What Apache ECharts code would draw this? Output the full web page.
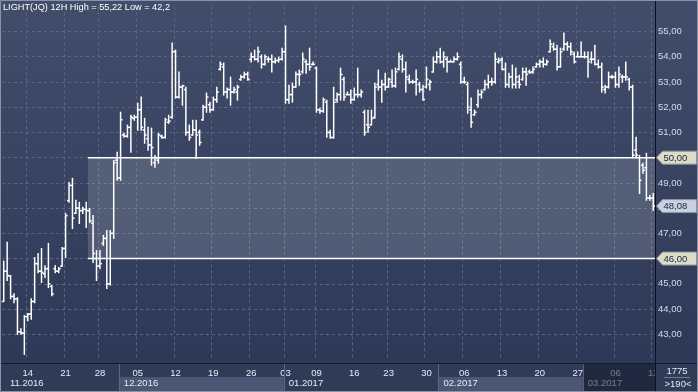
<!DOCTYPE html>
<html><head><meta charset="utf-8">
<script src="https://cdn.jsdelivr.net/npm/echarts@6/dist/echarts.min.js"></script>
<style>html,body{margin:0;padding:0;background:#2e3a57;}#c{width:698px;height:392px;}</style>
</head><body><div id="c"></div>
<script>
// ---- data (12H bars, LIGHT(JQ)) ----
const titleText = 'LIGHT(JQ) 12H High = 55,22 Low = 42,2';
const opens = [
44.3,45.5,45.3,44.5,44.4,43.1,43.05,43.7,43.8,44.3,
45.8,45.5,45.4,45.6,44.9,45.6,45.5,45.7,46.4,48.3,
48.9,47.8,48.0,47.9,47.95,47.9,47.4,46.0,45.7,46.6,
46.8,45.0,47.0,49.9,49.2,50.9,50.85,51.2,51.55,51.6,
51.9,51.1,50.75,50.5,49.8,49.9,50.85,50.8,51.4,51.6,
54.2,52.4,52.8,52.7,51.0,50.9,51.1,51.0,51.5,52.0,
52.1,51.9,52.3,53.5,53.6,52.6,52.7,52.6,52.6,53.1,
53.2,53.3,53.9,54.0,53.9,54.0,53.7,53.9,53.9,53.8,
53.85,53.9,54.2,52.3,52.5,52.8,53.3,53.4,53.8,53.7,
53.7,53.55,51.9,51.85,52.2,
51.0,50.8,52.3,52.5,53.1,52.5,52.5,52.3,52.5,52.5,
51.8,51.3,51.3,51.6,52.9,52.8,52.9,52.8,53.0,52.85,
53.5,53.9,53.5,53.1,53.0,53.0,52.9,52.7,52.8,52.9,
53.4,53.8,54.0,53.8,53.9,53.8,53.8,53.9,53.7,53.0,
52.9,51.9,51.7,52.1,52.5,52.7,52.9,
53.0,53.0,53.8,53.9,53.5,52.9,53.2,52.9,53.0,53.1,
53.4,53.4,53.4,53.6,53.7,53.8,53.7,54.2,54.4,54.3,
53.6,54.3,54.5,54.4,54.1,54.0,54.0,54.0,54.0,53.9,
53.9,53.7,53.6,52.7,52.8,53.2,53.2,52.9,53.2,53.2,
53.1,52.8,50.3,50.0,49.7,49.6,48.4,48.4
];
const highs = [
45.9,46.65,45.33,44.61,44.45,43.22,43.74,43.82,44.41,46.04,
46.2,46.4,45.72,46.6,44.93,45.72,45.64,46.44,47.79,49.02,
49.18,48.31,48.23,48.03,48.23,47.99,47.71,46.32,46.32,46.92,
47.11,47.11,49.89,50.21,51.8,50.97,51.29,51.68,51.68,52.16,
52.4,51.56,51.21,51.17,50.09,50.97,50.89,51.56,51.68,54.54,
54.26,53.39,52.87,52.79,51.29,51.48,51.48,51.09,52.08,52.56,
52.2,52.4,52.79,53.79,53.75,52.76,53.19,52.79,52.87,53.27,
53.39,53.39,54.15,54.26,54.38,54.07,54.07,53.99,54.07,53.95,
53.99,54.34,55.22,52.87,52.95,53.39,53.47,54.15,53.87,54.34,
53.79,53.59,51.96,52.36,52.28,
51.09,52.79,52.56,53.55,53.19,52.6,52.68,52.76,53.55,52.68,
51.88,51.88,51.88,52.95,53.47,53.07,53.35,53.15,53.47,53.55,
54.15,54.07,53.79,53.27,53.07,53.47,52.99,52.87,53.59,53.07,
53.99,54.19,54.34,54.19,53.99,53.87,53.99,54.15,53.79,53.19,
52.99,52.36,51.88,52.68,52.68,53.07,53.27,
53.15,54.15,53.95,53.95,53.75,53.35,53.67,53.55,53.27,53.55,
53.55,53.47,53.59,53.75,53.87,53.95,53.87,54.66,54.54,54.46,
54.34,54.94,54.58,54.54,54.19,54.19,54.58,54.19,54.19,54.19,
54.46,53.87,53.75,52.87,53.39,53.27,53.39,53.59,53.27,53.79,
53.15,52.87,50.81,50.09,49.78,50.17,48.5,48.58
];
const lows = [
44.3,45.13,44.41,44.25,43.0,43.0,42.2,43.54,43.6,44.25,
45.44,45.05,45.25,44.85,44.53,45.44,45.44,45.7,46.04,48.23,
47.19,47.79,47.39,47.79,47.23,47.43,45.84,45.13,45.6,46.52,
44.81,44.95,46.8,49.1,49.1,50.81,50.81,50.21,51.48,51.09,
51.09,50.57,50.29,49.7,49.62,49.78,50.77,50.78,51.36,51.56,
52.36,52.36,52.08,50.89,50.69,50.89,49.97,50.49,51.48,51.8,
51.8,51.88,52.2,53.47,52.48,52.36,52.08,52.56,52.28,53.07,
53.15,53.07,53.79,53.87,53.79,53.55,53.67,53.79,53.39,53.75,
53.79,53.87,52.16,52.16,52.2,52.79,52.87,53.35,53.35,53.47,
53.67,51.8,51.76,51.8,50.81,
50.77,50.77,52.2,52.28,52.28,52.48,52.16,52.28,52.4,52.4,
50.89,51.01,51.3,51.56,52.68,52.2,52.68,52.79,52.79,52.79,
53.47,53.39,52.6,52.95,52.95,52.48,52.6,52.28,52.76,52.68,
53.39,53.75,53.75,53.59,53.39,53.79,53.79,53.87,52.95,52.95,
51.76,51.21,51.68,52.0,52.36,52.68,52.76,
52.87,52.95,53.75,53.47,52.79,52.79,52.76,52.76,52.76,53.07,
52.87,53.35,53.35,53.59,53.59,53.59,53.67,54.19,54.26,53.47,
53.59,54.26,54.26,54.07,53.75,53.99,53.99,53.95,53.19,53.75,
53.67,53.55,52.6,52.56,52.76,53.15,52.79,52.79,52.99,53.07,
52.68,50.01,50.01,48.58,49.38,48.31,48.31,47.91
];
const closes = [
45.5,45.33,44.5,44.4,43.1,43.05,43.7,43.8,44.3,45.8,
45.5,45.45,45.6,45.0,44.6,45.5,45.6,46.4,47.7,48.9,
47.6,48.0,47.9,47.95,47.9,47.5,46.2,45.7,45.8,46.8,
45.0,47.0,49.8,49.2,51.5,50.85,51.2,51.6,51.6,51.9,
51.2,50.9,50.5,50.4,50.0,50.9,50.8,51.5,51.45,54.2,
52.4,52.8,52.85,51.0,50.8,51.1,50.9,50.6,52.0,52.4,
51.9,52.3,52.6,53.7,52.6,52.7,52.6,52.7,52.8,53.2,
53.3,53.1,54.0,53.9,54.2,53.7,54.0,53.9,53.8,53.85,
53.9,54.2,52.3,52.5,52.8,53.3,53.3,53.9,53.7,53.6,
53.7,51.9,51.85,52.3,51.0,
50.8,52.2,52.5,53.3,52.4,52.5,52.3,52.5,52.5,52.6,
51.0,51.2,51.55,52.8,52.8,52.9,52.8,53.1,52.85,53.4,
54.0,53.5,53.2,53.0,53.0,53.1,52.7,52.3,53.1,53.0,
53.8,54.0,53.8,54.0,53.8,53.8,53.9,54.0,53.0,53.0,
52.0,51.4,51.8,52.5,52.6,52.9,53.0,
53.0,53.9,53.85,53.5,52.9,53.2,52.9,53.2,52.9,53.4,
53.3,53.37,53.5,53.7,53.8,53.7,53.8,54.5,54.3,53.6,
54.2,54.5,54.4,54.2,53.8,54.0,54.0,54.0,53.8,53.9,
53.7,53.6,52.8,52.8,53.2,53.2,52.9,53.3,53.2,53.2,
52.8,50.1,50.1,49.1,49.5,48.4,48.4,48.08
];
const weekLabels   = ['14','21','28','05','12','19','26','03','09','16','23','30','06','13','20','27','06','13'];
const weekStartBar = [7,18,28,39,50,61,72,82,91,102,112,123,134,145,156,167,178,189];
const monthLabels   = ['11.2016','12.2016','01.2017','02.2017','03.2017'];
const monthStartBar = [0,34,82,127,169];
const levelValues = [50, 46];
const zoneStartBar = 25;
const lastPrice = 48.08;
const footerTop = '1775';
const footerBottom = '>190<';

// ---- build ----
const N = opens.length;
const categories = new Array(N).fill('');
weekStartBar.forEach((b, k) => { categories[b] = weekLabels[k]; });
const ohlc = opens.map((o, i) => [i, o, highs[i], lows[i], closes[i]]);
const fmt = v => v.toFixed(2).replace('.', ',');
const FONT = 'Liberation Sans, Arial, sans-serif';
const FS = 9.5;

const chart = echarts.init(document.getElementById('c'));
const bgGrad = new echarts.graphic.LinearGradient(0, 0, 0, 1, [
  {offset: 0, color: '#414d6b'}, {offset: 1, color: '#2b3755'}
]);
const option = {
  animation: false,
  textStyle: {fontFamily: FONT},
  title: {text: titleText, left: 3, top: 3, padding: 0,
    textStyle: {color: '#ffffff', fontSize: 9.2, fontWeight: 'normal', fontFamily: FONT}},
  graphic: [
    {type: 'rect', z: -10, silent: true, shape: {x: 0, y: 0, width: 698, height: 392}, style: {fill: bgGrad}},
    {type: 'rect', z: -5, silent: true, shape: {x: 0, y: 363, width: 698, height: 29}, style: {fill: '#303b57'}},
    {type: 'line', z: 20, silent: true, shape: {x1: 0, y1: 363.5, x2: 698, y2: 363.5}, style: {stroke: '#141b2c', lineWidth: 1}},
    {type: 'line', z: 20, silent: true, shape: {x1: 655.5, y1: 0, x2: 655.5, y2: 392}, style: {stroke: '#0b111e', lineWidth: 1}},
    {type: 'rect', z: 19, silent: true, shape: {x: 656, y: 364, width: 42, height: 28}, style: {fill: '#303b57'}},
    {type: 'text', z: 21, silent: true, style: {text: footerTop, x: 677, y: 371, align: 'center', verticalAlign: 'middle', fill: '#e3e9f4', font: FS + 'px ' + FONT}},
    {type: 'line', z: 21, silent: true, shape: {x1: 664, y1: 377.5, x2: 690, y2: 377.5}, style: {stroke: '#6f7a94', lineWidth: 1}},
    {type: 'text', z: 21, silent: true, style: {text: footerBottom, x: 678, y: 384, align: 'center', verticalAlign: 'middle', fill: '#e3e9f4', font: FS + 'px ' + FONT}},
    {type: 'rect', z: 30, silent: true, shape: {x: 0.5, y: 0.5, width: 697, height: 391}, style: {fill: 'none', stroke: '#8a94a8', lineWidth: 1}}
  ],
  grid: {left: 2, right: 43, top: 6.27, bottom: 32.5},
  xAxis: {
    type: 'category', data: categories, boundaryGap: true,
    axisLine: {show: false}, axisTick: {show: false},
    axisLabel: {interval: (i, v) => v !== '', margin: 9, fontSize: FS, color: '#e6ecf6', fontFamily: FONT},
    splitLine: {show: true, interval: (i, v) => v !== '', lineStyle: {color: '#5a6683', type: [3, 3], width: 1}}
  },
  yAxis: {
    type: 'value', position: 'right', min: 42, max: 56, interval: 1,
    axisLine: {show: false}, axisTick: {show: false},
    axisLabel: {margin: 3, fontSize: FS, color: '#d3dbef', fontFamily: FONT, showMinLabel: false, showMaxLabel: false, formatter: v => fmt(v)},
    splitLine: {show: true, showMinLine: false, showMaxLine: false, lineStyle: {color: '#5a6683', type: [3, 3], width: 1}}
  },
  series: [
    { // shaded zone between the two levels
      type: 'custom', name: 'zone', clip: false, z: 1,
      data: [[zoneStartBar, levelValues[0], levelValues[1]]],
      encode: {x: 0, y: [1, 2]},
      renderItem: (params, api) => {
        const cs = params.coordSys;
        const w = api.size([1, 0])[0];
        const x0 = api.coord([api.value(0), levelValues[0]])[0] - w / 2;
        const y1 = api.coord([0, api.value(1)])[1];
        const y2 = api.coord([0, api.value(2)])[1];
        const xr = cs.x + cs.width;
        return {type: 'group', children: [
          {type: 'rect', shape: {x: x0, y: y1, width: xr - x0, height: y2 - y1}, style: {fill: 'rgba(255,255,255,0.15)'}},
          {type: 'line', shape: {x1: x0, y1: y1, x2: xr, y2: y1}, style: {stroke: '#ffffff', lineWidth: 1.5}},
          {type: 'line', shape: {x1: x0, y1: y2, x2: xr, y2: y2}, style: {stroke: '#ffffff', lineWidth: 1.5}}
        ]};
      }
    },
    { // OHLC bars
      type: 'custom', name: 'LIGHT', z: 3,
      data: ohlc,
      encode: {x: 0, y: [1, 2, 3, 4]},
      renderItem: (params, api) => {
        const i = api.value(0);
        const pH = api.coord([i, api.value(2)]);
        const pL = api.coord([i, api.value(3)]);
        const yO = api.coord([i, api.value(1)])[1];
        const yC = api.coord([i, api.value(4)])[1];
        const x = pH[0];
        const t = 2;
        const st = {stroke: '#ffffff', lineWidth: 1.5};
        return {type: 'group', children: [
          {type: 'line', shape: {x1: x, y1: pH[1] - 0.5, x2: x, y2: pL[1] + 0.5}, style: st},
          {type: 'line', shape: {x1: x - t, y1: yO, x2: x, y2: yO}, style: st},
          {type: 'line', shape: {x1: x, y1: yC, x2: x + t, y2: yC}, style: st}
        ]};
      }
    },
    { // month band row under the day labels
      type: 'custom', name: 'months', clip: false, z: 5, silent: true,
      data: monthStartBar.map((s, k) => [s, k]),
      encode: {x: 0},
      renderItem: (params, api) => {
        const cs = params.coordSys;
        const w = api.size([1, 0])[0];
        const s = api.value(0), k = api.value(1);
        const x0 = api.coord([s, 50])[0] - w / 2;
        const last = k === monthStartBar.length - 1;
        const x1 = last ? cs.x + cs.width : api.coord([monthStartBar[k + 1], 50])[0] - w / 2;
        const ch = [];
        if (k % 2 === 1) ch.push({type: 'rect', shape: {x: x0, y: 377, width: x1 - x0, height: 14}, style: {fill: '#4a5674'}});
        if (k > 0) ch.push({type: 'line', shape: {x1: Math.round(x0) + 0.5, y1: 364, x2: Math.round(x0) + 0.5, y2: 392}, style: {stroke: '#5c6786', lineWidth: 1}});
        ch.push({type: 'text', style: {text: monthLabels[k], x: x0 + (k === 0 ? 8 : 5), y: 383, verticalAlign: 'middle', fill: '#e6ecf6', font: FS + 'px ' + FONT}});
        if (last) ch.push({type: 'rect', shape: {x: x0 + 1, y: 364, width: x1 - x0, height: 28}, style: {fill: 'rgba(20,26,44,0.55)'}});
        return {type: 'group', children: ch};
      }
    },
    { // price tags on the right axis
      type: 'custom', name: 'tags', clip: false, z: 10, silent: true,
      data: [[0, levelValues[0], 0], [0, lastPrice, 1], [0, levelValues[1], 0]],
      encode: {x: 0, y: 1},
      renderItem: (params, api) => {
        const cs = params.coordSys;
        const v = api.value(1);
        const y = api.coord([0, v])[1];
        const xl = cs.x + cs.width + 1.5;
        const h = 13;
        const fill = api.value(2) === 1 ? '#c9d1de' : '#dcdcc7';
        return {type: 'group', children: [
          {type: 'polygon', shape: {points: [[xl, y], [xl + 6, y - h / 2], [xl + 40, y - h / 2], [xl + 40, y + h / 2], [xl + 6, y + h / 2]]},
            style: {fill: fill, stroke: '#8d94a3', lineWidth: 1}},
          {type: 'text', style: {text: fmt(v), x: xl + 7, y: y + 0.5, verticalAlign: 'middle', fill: '#17233d', font: FS + 'px ' + FONT}}
        ]};
      }
    }
  ]
};
chart.setOption(option);
</script>
</body></html>
